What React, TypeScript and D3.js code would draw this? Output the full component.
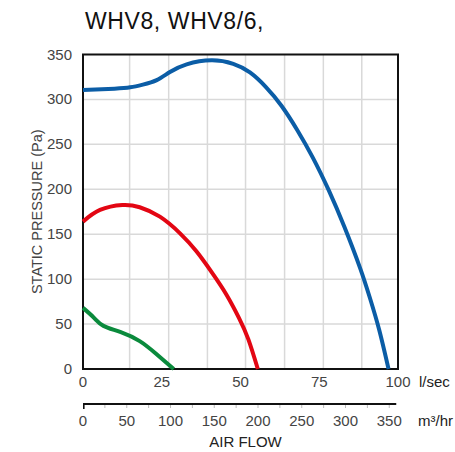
import React from "react";
import * as d3 from "d3";

const titleText = "WHV8, WHV8/6,";
const yTicks = [0, 50, 100, 150, 200, 250, 300, 350];
const xTicksLs = [0, 25, 50, 75, 100];
const xGridLs = [14.8, 27.2, 39.5, 51.6, 64.0, 76.3, 88.5];
const yGrid = [50, 100, 150, 200, 250, 300];
const m3Labels = [0, 50, 100, 150, 200, 250, 300, 350];
const m3Minor = [25, 50, 75, 100, 125, 150, 175, 200, 225, 250, 275, 300, 325, 350];

const blueFlow = [0, 10, 15, 19, 23.4, 27.6, 32.9, 40.8, 47.7, 53, 58, 63, 68, 73, 78, 83, 88, 91, 94, 97];
const bluePressure = [310.5, 312, 313.5, 316.5, 321.5, 330.5, 339, 343.5, 339.5, 330, 314, 293, 266, 235, 199, 158, 112, 80, 44, 0];
const redFlow = [0, 5.4, 12.5, 18, 24.4, 30.8, 36, 41, 45.5, 49.5, 52.5, 55.5];
const redPressure = [164, 177, 182.5, 180, 169.5, 151, 131, 107, 83, 57, 33, 0];
const greenFlow = [0, 3.5, 6.5, 12, 18, 23, 28.8];
const greenPressure = [68, 57, 48, 41, 31, 17.5, 0];

const W = 455;
const H = 452;
const X0 = 83;
const X1 = 398;
const Y0 = 369;
const Y1 = 54.5;

const x = d3.scaleLinear().domain([0, 100]).range([X0, X1]);
const y = d3.scaleLinear().domain([0, 350]).range([Y0, Y1]);
const xm = d3.scaleLinear().domain([0, 360]).range([X0, X1]);

const line = d3
  .line<[number, number]>()
  .x((d) => x(d[0]))
  .y((d) => y(d[1]))
  .curve(d3.curveNatural);

const zip = (a: number[], b: number[]) => a.map((v, i) => [v, b[i]] as [number, number]);

const series = [
  { flow: blueFlow, pressure: bluePressure, color: "#0b5da6" },
  { flow: redFlow, pressure: redPressure, color: "#e30613" },
  { flow: greenFlow, pressure: greenPressure, color: "#0a8a3c" },
];

const font = "'Liberation Sans', Arial, Helvetica, sans-serif";

export default function App() {
  const axisY = 404;
  return (
    <svg
      width={W}
      height={H}
      viewBox={`0 0 ${W} ${H}`}
      style={{ position: "absolute", left: 0, top: 0, background: "#fff" }}
      fontFamily={font}
    >
      <rect x={0} y={0} width={W} height={H} fill="#fff" />
      <text x={85} y={28.5} fontSize={23} letterSpacing={0.6} fill="#111">
        {titleText}
      </text>

      {xGridLs.map((v) => (
        <line key={"gx" + v} x1={x(v)} x2={x(v)} y1={Y1} y2={Y0} stroke="#d9d9d9" strokeWidth={1.5} />
      ))}
      {yGrid.map((v) => (
        <line key={"gy" + v} x1={X0} x2={X1} y1={y(v)} y2={y(v)} stroke="#d9d9d9" strokeWidth={1.5} />
      ))}
      <rect x={X0} y={Y1} width={X1 - X0} height={Y0 - Y1} fill="none" stroke="#111" strokeWidth={2} />

      {yTicks.map((v) => (
        <text key={"yt" + v} x={72} y={y(v) + 5} fontSize={15} textAnchor="end" fill="#444">
          {v}
        </text>
      ))}
      {xTicksLs.map((v) => (
        <text key={"xt" + v} x={x(v)} y={387} fontSize={15} textAnchor="middle" fill="#444">
          {v}
        </text>
      ))}
      <text x={419} y={387} fontSize={15} fill="#222">
        l/sec
      </text>

      <text
        transform={`translate(42, ${(Y0 + Y1) / 2}) rotate(-90)`}
        fontSize={14.5}
        textAnchor="middle"
        fill="#444"
      >
        STATIC PRESSURE (Pa)
      </text>

      <line x1={xm(0)} x2={xm(358)} y1={axisY} y2={axisY} stroke="#111" strokeWidth={2.2} />
      <line x1={xm(0) + 0.8} x2={xm(0) + 0.8} y1={axisY} y2={axisY + 5} stroke="#111" strokeWidth={1.6} />
      {m3Minor.map((v) => (
        <line key={"mt" + v} x1={xm(v)} x2={xm(v)} y1={axisY + 1} y2={axisY + 4} stroke="#bbb" strokeWidth={1} />
      ))}
      {m3Labels.map((v) => (
        <text key={"ml" + v} x={xm(v)} y={426} fontSize={15} textAnchor="middle" fill="#444">
          {v}
        </text>
      ))}
      <text x={418} y={426} fontSize={15} fill="#222">
        m³/hr
      </text>
      <text x={245.5} y={447} fontSize={15} textAnchor="middle" fill="#222">
        AIR FLOW
      </text>

      {series.map((s, i) => (
        <path
          key={"s" + i}
          d={line(zip(s.flow, s.pressure)) || ""}
          fill="none"
          stroke={s.color}
          strokeWidth={4}
          strokeLinecap="butt"
          strokeLinejoin="round"
        />
      ))}
    </svg>
  );
}
